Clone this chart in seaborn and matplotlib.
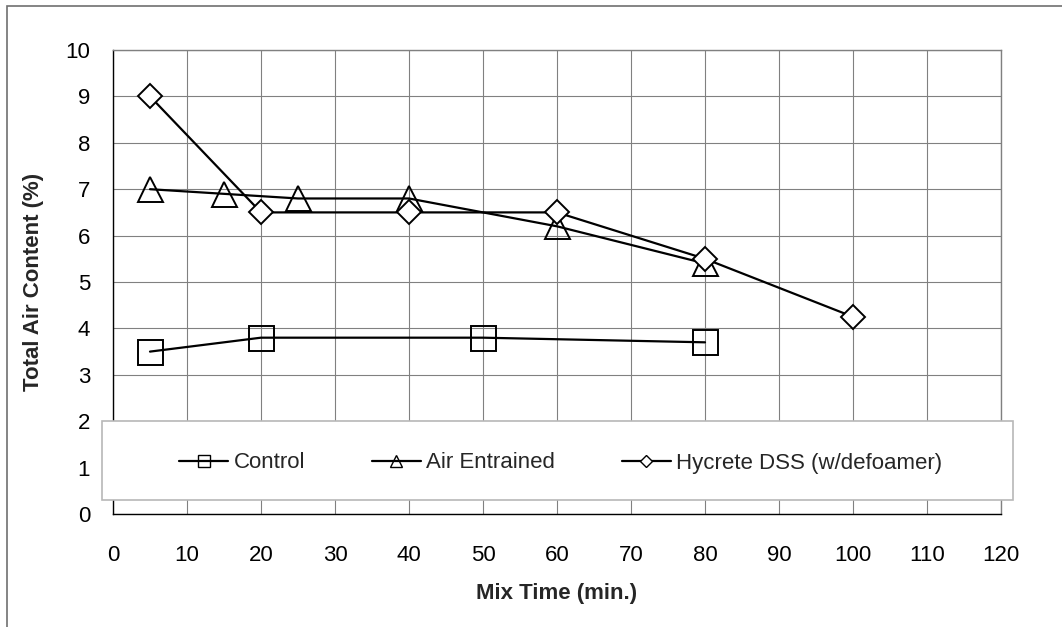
import matplotlib
matplotlib.use('Agg')
import matplotlib.pyplot as plt
from matplotlib.patches import Rectangle
import seaborn as sns
import pandas as pd

# data
control_x = [5, 20, 50, 80]
control_y = [3.5, 3.8, 3.8, 3.7]
air_x = [5, 15, 25, 40, 60, 80]
air_y = [7.0, 6.9, 6.8, 6.8, 6.2, 5.4]
hycrete_x = [5, 20, 40, 60, 80, 100]
hycrete_y = [9.0, 6.5, 6.5, 6.5, 5.5, 4.25]
series_names = ['Control', 'Air Entrained', 'Hycrete DSS (w/defoamer)']
x_ticks = list(range(0, 121, 10))
y_ticks = list(range(0, 11))

sns.set_style('white')
plt.rcParams['font.family'] = ['Liberation Sans', 'DejaVu Sans']

W, H = 1062, 627
fig = plt.figure(figsize=(W / 100, H / 100), dpi=100)
ax = fig.add_axes([113 / W, 1 - 514 / H, 888 / W, 464 / H])

grid_c = '#808080'
df_c = pd.DataFrame({'x': control_x, 'y': control_y})
df_a = pd.DataFrame({'x': air_x, 'y': air_y})
df_h = pd.DataFrame({'x': hycrete_x, 'y': hycrete_y})

sns.lineplot(data=df_c, x='x', y='y', ax=ax, color='black', lw=1.6,
             marker='s', markersize=18, mfc='none', mec='black', mew=1.4,
             label=series_names[0], zorder=3)
sns.lineplot(data=df_a, x='x', y='y', ax=ax, color='black', lw=1.6,
             marker='^', markersize=18, mfc='none', mec='black', mew=1.4,
             label=series_names[1], zorder=3)
sns.lineplot(data=df_h, x='x', y='y', ax=ax, color='black', lw=1.6,
             marker='D', markersize=12.7, mfc='white', mec='black', mew=1.4,
             label=series_names[2], zorder=4)

ax.set_xlim(0, 120)
ax.set_ylim(0, 10)
ax.set_xticks(x_ticks)
ax.set_yticks(y_ticks)
ax.grid(True, color=grid_c, lw=0.8)
ax.set_axisbelow(True)
ax.tick_params(axis='both', direction='out', length=5, width=0.8, color=grid_c,
               labelsize=16, labelcolor='black')
ax.tick_params(axis='y', pad=11.5)
ax.tick_params(axis='x', pad=17)
for s in ['left', 'bottom']:
    ax.spines[s].set_color('black')
    ax.spines[s].set_linewidth(1.0)
for s in ['top', 'right']:
    ax.spines[s].set_color(grid_c)
    ax.spines[s].set_linewidth(1.0)

ax.set_xlabel('Mix Time (min.)', fontsize=16, fontweight='bold', va='center')
ax.set_ylabel('Total Air Content (%)', fontsize=16, fontweight='bold', va='center')
ax.xaxis.set_label_coords(0.5, (514 - 594) / 464)
ax.yaxis.set_label_coords((34 - 113) / 888, 0.5)

# legend box drawn over the lower part of the plot
handles, labels = ax.get_legend_handles_labels()
ax.get_legend().remove()
fig.patches.append(Rectangle((102 / W, 1 - 500 / H), 911 / W, 79 / H,
                             transform=fig.transFigure, facecolor='white',
                             edgecolor='#b8b8b8', lw=1.2, zorder=2))
leg = fig.legend(handles, labels, loc='center', ncol=3, frameon=False,
                 bbox_to_anchor=(561 / W, 1 - 463 / H),
                 fontsize=16, handlelength=2.2, handletextpad=0.25,
                 columnspacing=3.0)
leg.set_zorder(3)
for h in leg.legend_handles:
    h.set_markersize(8 if h.get_marker() != 'D' else 6)
    h.set_markeredgewidth(1.0)

# outer frame (only left and top edges fall inside the picture)
fig.patches.append(Rectangle((7 / W, -0.2), 1.5, 1.2 - 6 / H,
                             transform=fig.transFigure, fill=False,
                             edgecolor='#707070', lw=1.2, zorder=0))

fig.savefig('out.png', dpi=100)
